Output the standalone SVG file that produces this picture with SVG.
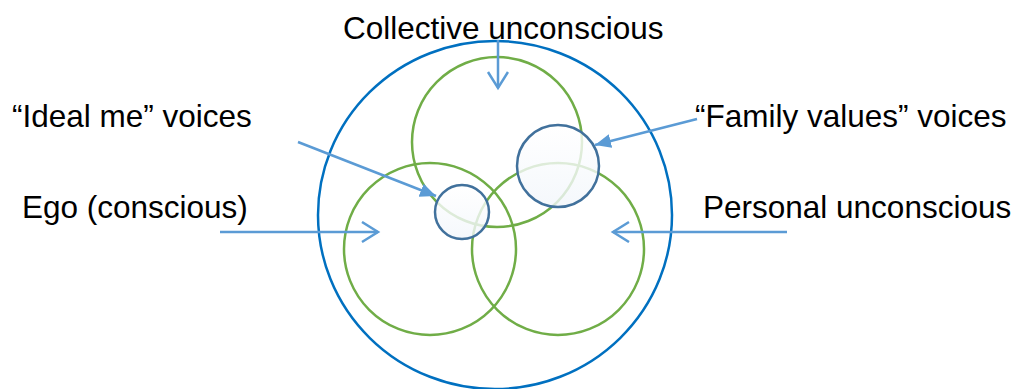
<svg xmlns="http://www.w3.org/2000/svg" width="1024" height="389" viewBox="0 0 1024 389">
<style>
text{font-family:"Liberation Sans",Arial,sans-serif;font-size:31.5px;fill:#000}
.g{fill:none;stroke:#70AD47;stroke-width:2.5}
.b{fill:none;stroke:#0070C0;stroke-width:2.5}
.v{fill:url(#vg);fill-opacity:0.8;stroke:#41719C;stroke-width:2.5}
.c{fill:none;stroke:#5B9BD5;stroke-width:2.5}
</style>
<defs>
<linearGradient id="vg" x1="0" y1="0" x2="0" y2="1">
<stop offset="0" stop-color="#FFFFFF"/>
<stop offset="1" stop-color="#F2F6FB"/>
</linearGradient>
<marker id="open" markerWidth="22" markerHeight="24" refX="17" refY="11" orient="auto" markerUnits="userSpaceOnUse">
<path d="M1,1 L17,11 L1,21" fill="none" stroke="#5B9BD5" stroke-width="2.5"/>
</marker>
<marker id="tri" markerWidth="20" markerHeight="16" refX="16" refY="8" orient="auto" markerUnits="userSpaceOnUse">
<path d="M0,1 L16,8 L0,15 Z" fill="#5B9BD5"/>
</marker>
</defs>
<g id="outer"><ellipse class="b" cx="495" cy="215" rx="177" ry="174"/></g>
<g id="collective"><circle class="g" cx="497" cy="142" r="85"/></g>
<g id="ego"><circle class="g" cx="430" cy="249" r="86"/></g>
<g id="personal"><circle class="g" cx="558" cy="249" r="86"/></g>
<g id="ideal"><circle class="v" cx="462" cy="212" r="27"/></g>
<g id="family"><circle class="v" cx="558" cy="166" r="41"/></g>
<g id="connectors">
<line class="c" x1="498" y1="40" x2="498" y2="88" marker-end="url(#open)"/>
<line class="c" x1="697" y1="119" x2="595" y2="145" marker-end="url(#tri)"/>
<line class="c" x1="298" y1="142" x2="436" y2="196" marker-end="url(#tri)"/>
<line class="c" x1="220" y1="232" x2="378" y2="232" marker-end="url(#open)"/>
<line class="c" x1="787" y1="232" x2="613" y2="232" marker-end="url(#open)"/>
</g>
<g id="labels">
<text x="343" y="39">Collective unconscious</text>
<text x="12" y="127">“Ideal me” voices</text>
<text x="22" y="218">Ego (conscious)</text>
<text x="695" y="127">“Family values” voices</text>
<text x="703" y="218">Personal unconscious</text>
</g>
</svg>
